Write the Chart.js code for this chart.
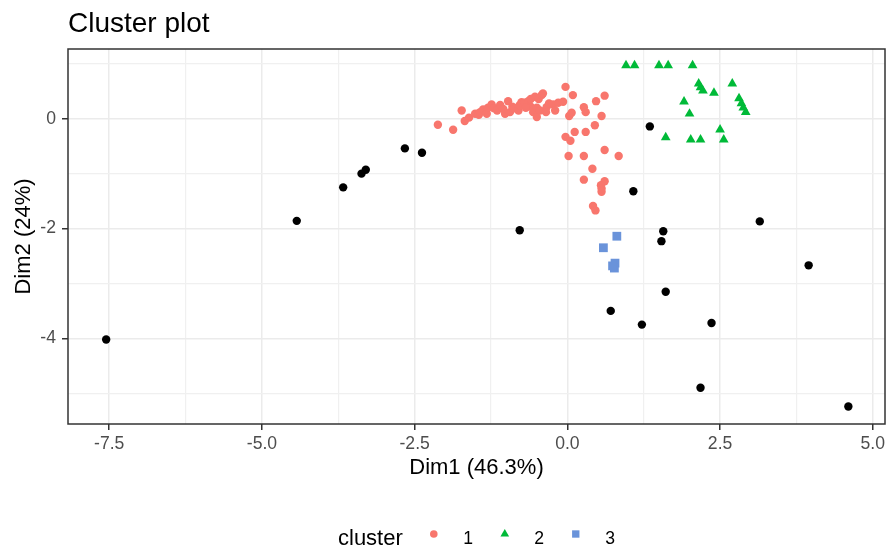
<!DOCTYPE html>
<html>
<head>
<meta charset="utf-8">
<script src="https://cdn.jsdelivr.net/npm/chart.js@4.4.0/dist/chart.umd.min.js"></script>
<style>
  html, body { margin: 0; padding: 0; background: #fff; }
  #wrap { width: 887px; height: 548px; }
</style>
</head>
<body>
<div id="wrap"><canvas id="grafico" width="887" height="548"></canvas></div>
<script>
/* Dados dos grupos (Dim1, Dim2) */
var grupo1Dim1 = [-2.12, -1.87, -1.73, -1.68, -1.61, -1.51, -1.45, -1.43, -1.38, -1.32, -1.30, -1.24, -1.20, -1.15, -1.10,
                  -1.02, -0.97, -0.94, -0.90, -0.86, -0.80, -0.78, -0.75, -0.70, -0.64, -0.60, -0.60, -0.56, -0.53, -0.50,
                  -0.50, -0.47, -0.45, -0.42, -0.40, -0.34, -0.30, -0.23, -0.20, -0.15, -0.07, -0.03, 0.09, 0.03, 0.07,
                  0.27, 0.30, 0.47, 0.61, 0.56, 0.45, 0.30, 0.12, -0.03, 0.05, 0.02, 0.27, 0.61, 0.84, 0.41,
                  0.27, 0.61, 0.55, 0.56, 0.56, 0.42, 0.46, -1.05, -0.68, -0.35];
var grupo1Dim2 = [-0.11, -0.20, 0.15, -0.04, 0.02, 0.09, 0.07, 0.12, 0.17, 0.09, 0.20, 0.26, 0.19, 0.15, 0.25,
                  0.09, 0.32, 0.12, 0.22, 0.19, 0.15, 0.25, 0.30, 0.29, 0.32, 0.22, 0.36, 0.12, 0.40, 0.20,
                  0.03, 0.36, 0.15, 0.43, 0.46, 0.21, 0.28, 0.26, 0.15, 0.29, 0.31, 0.58, 0.43, 0.05, 0.11,
                  0.21, 0.12, 0.32, 0.42, 0.05, -0.12, -0.24, -0.24, -0.33, -0.40, -0.68, -0.68, -0.57, -0.68, -0.91,
                  -1.11, -1.14, -1.21, -1.27, -1.33, -1.59, -1.67, 0.18, 0.20, 0.12];

var grupo2Dim1 = [0.96, 1.10, 1.50, 1.65, 2.05, 2.15, 2.18, 2.22, 2.40, 2.70, 1.91, 2.00, 2.81, 2.85, 2.88, 2.92,
                  2.50, 1.61, 2.02, 2.18, 2.56];
var grupo2Dim2 = [0.97, 0.97, 0.97, 0.97, 0.97, 0.64, 0.57, 0.51, 0.47, 0.64, 0.31, 0.09, 0.37, 0.28, 0.20, 0.12,
                  -0.20, -0.34, -0.38, -0.38, -0.38];

var grupo3Dim1 = [0.81, 0.59, 0.78, 0.77, 0.74];
var grupo3Dim2 = [-2.14, -2.35, -2.63, -2.72, -2.68];

/* pontos fora dos grupos (ruído) */
var ruidoDim1 = [-7.55, -4.43, -3.67, -3.37, -3.30, -2.66, -2.38, -0.78, 1.35, 1.08, 1.57, 1.54, 1.61, 0.71,
                 1.22, 2.36, 3.15, 3.95, 2.18, 4.60];
var ruidoDim2 = [-4.02, -1.86, -1.25, -1.00, -0.93, -0.54, -0.62, -2.03, -0.14, -1.32, -2.05, -2.23, -3.15, -3.50,
                 -3.75, -3.72, -1.87, -2.67, -4.90, -5.24];

/* Eixos */
var limitesX = [-8.175, 5.20];
var limitesY = [-5.56, 1.27];
var marcasX = [-7.5, -5.0, -2.5, 0.0, 2.5, 5.0];
var marcasXMenores = [-6.25, -3.75, -1.25, 1.25, 3.75];
var marcasY = [-4, -2, 0];
var marcasYMenores = [-5, -3, -1, 1];

var titulo = 'Cluster plot';
var tituloX = 'Dim1 (46.3%)';
var tituloY = 'Dim2 (24%)';
var legendaTitulo = 'cluster';
var nomesGrupos = ['1', '2', '3'];

var fonte = '"Liberation Sans", Arial, sans-serif';

function pares(xs, ys) {
  var r = [];
  for (var i = 0; i < xs.length; i++) r.push({ x: xs[i], y: ys[i] });
  return r;
}

function serie(label, xs, ys, cor, estilo, raio) {
  return {
    label: label,
    data: pares(xs, ys),
    backgroundColor: cor,
    borderColor: cor,
    borderWidth: 0,
    pointStyle: estilo,
    pointRadius: raio,
    pointHoverRadius: raio
  };
}

function gradeEixo(maiores) {
  return {
    color: function (c) { return maiores.includes(c.tick.value) ? '#EBEBEB' : '#F0F0F0'; },
    lineWidth: function (c) { return maiores.includes(c.tick.value) ? 1.5 : 1.2; },
    tickColor: function (c) { return maiores.includes(c.tick.value) ? '#333333' : 'rgba(0,0,0,0)'; },
    tickWidth: 1.5,
    tickLength: 6
  };
}

/* moldura do painel, título e legenda */
var extras = {
  id: 'extras',
  afterDatasetsDraw(chart) {
    var ctx = chart.ctx, a = chart.chartArea;
    ctx.save();
    ctx.strokeStyle = '#333333';
    ctx.lineWidth = 1.5;
    ctx.strokeRect(a.left, a.top, a.right - a.left, a.bottom - a.top);
    ctx.restore();
  },
  afterDraw(chart) {
    var ctx = chart.ctx;
    ctx.save();
    ctx.fillStyle = '#000000';
    ctx.textAlign = 'left';
    ctx.textBaseline = 'alphabetic';
    ctx.font = '28px ' + fonte;
    ctx.fillText(titulo, chart.chartArea.left, 31.5);

    ctx.font = '22px ' + fonte;
    var x = 338;
    ctx.fillText(legendaTitulo, x, 545);
    x += ctx.measureText(legendaTitulo).width + 31;
    ctx.font = '17.6px ' + fonte;
    var raios = [3.8, 5, 5.2];
    for (var i = 0; i < nomesGrupos.length; i++) {
      var ds = chart.data.datasets[i + 1];
      ctx.fillStyle = ds.backgroundColor;
      Chart.helpers.drawPoint(ctx, { pointStyle: ds.pointStyle, radius: raios[i], rotation: 0, borderWidth: 0 }, x, 534);
      ctx.fillStyle = '#000000';
      ctx.fillText(nomesGrupos[i], x + 29.5, 544);
      x += 29.5 + ctx.measureText(nomesGrupos[i]).width + 31.7;
    }
    ctx.restore();
  }
};

var grafico = new Chart(document.getElementById('grafico').getContext('2d'), {
  type: 'scatter',
  data: {
    datasets: [
      serie('0', ruidoDim1, ruidoDim2, '#000000', 'circle', 4.2),
      serie('1', grupo1Dim1, grupo1Dim2, '#F8766D', 'circle', 4.2),
      serie('2', grupo2Dim1, grupo2Dim2, '#00BA38', 'triangle', 5.6),
      serie('3', grupo3Dim1, grupo3Dim2, '#6A93DA', 'rect', 6.2)
    ]
  },
  options: {
    responsive: false,
    animation: false,
    devicePixelRatio: 1,
    layout: { autoPadding: false, padding: { top: 49, right: 2, left: 0, bottom: 0 } },
    plugins: {
      legend: { display: false },
      title: { display: false },
      tooltip: { enabled: false }
    },
    scales: {
      x: {
        type: 'linear',
        min: limitesX[0],
        max: limitesX[1],
        afterBuildTicks: function (s) {
          s.ticks = marcasX.concat(marcasXMenores).sort(function (a, b) { return a - b; })
            .map(function (v) { return { value: v }; });
        },
        afterFit: function (s) {
          s.height = 124;
          s.paddingLeft = 0;
          s.paddingRight = 0;
        },
        ticks: {
          autoSkip: false,
          maxRotation: 0,
          padding: 4,
          color: '#4D4D4D',
          font: { family: fonte, size: 17.6 },
          callback: function (v) { return marcasX.includes(v) ? v.toFixed(1) : ''; }
        },
        grid: gradeEixo(marcasX),
        border: { display: false },
        title: {
          display: true,
          text: tituloX,
          color: '#000000',
          font: { family: fonte, size: 22 },
          padding: { top: 0, bottom: 67 }
        }
      },
      y: {
        type: 'linear',
        min: limitesY[0],
        max: limitesY[1],
        afterBuildTicks: function (s) {
          s.ticks = marcasY.concat(marcasYMenores).sort(function (a, b) { return a - b; })
            .map(function (v) { return { value: v }; });
        },
        afterFit: function (s) {
          s.width = 68;
          s.paddingTop = 0;
          s.paddingBottom = 0;
        },
        ticks: {
          autoSkip: false,
          padding: 6,
          color: '#4D4D4D',
          font: { family: fonte, size: 17.6 },
          callback: function (v) { return marcasY.includes(v) ? String(v) : ''; }
        },
        grid: gradeEixo(marcasY),
        border: { display: false },
        title: {
          display: true,
          text: tituloY,
          color: '#000000',
          font: { family: fonte, size: 22 },
          padding: { top: 11, bottom: 0 }
        }
      }
    }
  },
  plugins: [extras]
});
</script>
</body>
</html>
